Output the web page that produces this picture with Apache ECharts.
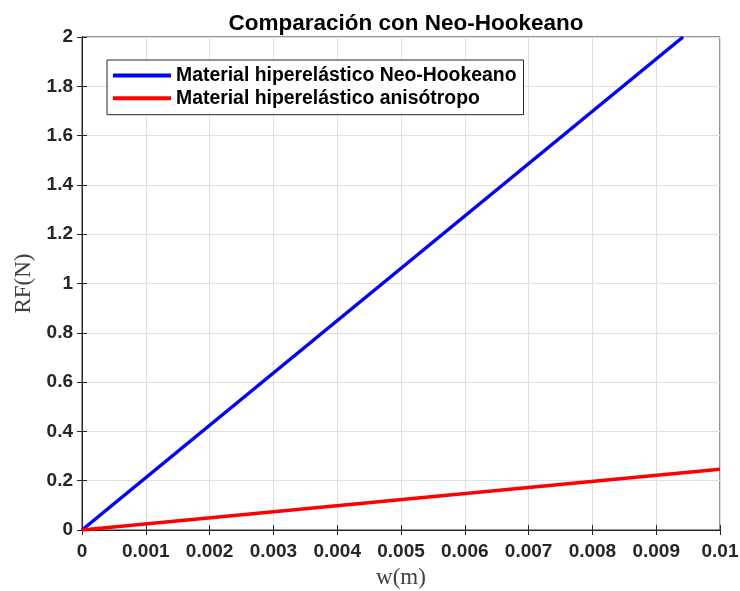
<!DOCTYPE html>
<html>
<head>
<meta charset="utf-8">
<script src="https://cdn.jsdelivr.net/npm/echarts@6/dist/echarts.min.js"></script>
<style>
  html, body { margin: 0; padding: 0; background: #fff; }
  #chart { width: 740px; height: 591px; }
</style>
</head>
<body>
<div id="chart"></div>
<script>
// Tick values for both axes
const xTicks = [0, 0.001, 0.002, 0.003, 0.004, 0.005, 0.006, 0.007, 0.008, 0.009, 0.01];
const yTicks = [0, 0.2, 0.4, 0.6, 0.8, 1, 1.2, 1.4, 1.6, 1.8, 2];

// Displacement w (m) and reaction force RF (N)
const neoW = [0, 0.00942];
const neoRF = [0, 2];
const anisoW = [0, 0.01];
const anisoRF = [0, 0.246];

const neoName = 'Material hiperelástico Neo-Hookeano';
const anisoName = 'Material hiperelástico anisótropo';

const pairs = (xs, ys) => xs.map((x, i) => [x, ys[i]]);

const sans = 'Liberation Sans, Arial, Helvetica, sans-serif';
const serif = 'Liberation Serif, Times New Roman, serif';
const axisColor = '#262626';
const tickFont = { fontFamily: sans, fontWeight: 'bold', fontSize: 19, color: axisColor };

const xRange = { type: 'value', min: xTicks[0], max: xTicks[xTicks.length - 1], interval: 0.001 };
const yRange = { type: 'value', min: yTicks[0], max: yTicks[yTicks.length - 1], interval: 0.2 };
const line = { show: true, lineStyle: { color: axisColor, width: 1 } };
const ticks = { show: true, inside: true, length: 5, lineStyle: { color: axisColor } };
const grid = { show: true, lineStyle: { color: '#e0e0e0', width: 1 } };

const chart = echarts.init(document.getElementById('chart'));
chart.setOption({
  animation: false,
  backgroundColor: '#fff',
  title: {
    text: 'Comparación con Neo-Hookeano',
    left: 401, top: 7, textAlign: 'center',
    textStyle: { fontFamily: sans, fontWeight: 'bold', fontSize: 22.5, color: '#000' }
  },
  grid: {
    left: 82, right: 20, top: 37, bottom: 61,
    outerBoundsMode: 'none', containLabel: false,
    show: true, borderColor: axisColor, borderWidth: 1
  },
  legend: {
    left: 107, top: 60, orient: 'vertical',
    itemWidth: 58, itemHeight: 4, itemGap: 3.7,
    padding: [6, 7, 7, 6],
    borderColor: axisColor, borderWidth: 1, backgroundColor: '#fff',
    icon: 'rect',
    textStyle: { fontFamily: sans, fontWeight: 'bold', fontSize: 19.4, lineHeight: 19, color: '#000' },
    data: [neoName, anisoName]
  },
  xAxis: [
    Object.assign({}, xRange, {
      position: 'bottom',
      name: 'w(m)', nameLocation: 'middle', nameGap: 36,
      nameTextStyle: { fontFamily: serif, fontSize: 23, color: '#404040' },
      axisLine: line, axisTick: ticks,
      axisLabel: Object.assign({ margin: 12, formatter: v => String(+v.toFixed(3)) }, tickFont),
      splitLine: grid
    }),
    Object.assign({}, xRange, {
      position: 'top', axisLine: line, axisTick: ticks,
      axisLabel: { show: false }, splitLine: { show: false }
    })
  ],
  yAxis: [
    Object.assign({}, yRange, {
      position: 'left',
      name: 'RF(N)', nameLocation: 'middle', nameGap: 47,
      nameTextStyle: { fontFamily: serif, fontSize: 23, color: '#404040' },
      axisLine: line, axisTick: ticks,
      axisLabel: Object.assign({ margin: 9, formatter: v => String(+v.toFixed(1)) }, tickFont),
      splitLine: grid
    }),
    Object.assign({}, yRange, {
      position: 'right', axisLine: line, axisTick: ticks,
      axisLabel: { show: false }, splitLine: { show: false }
    })
  ],
  series: [
    {
      name: neoName, type: 'line', xAxisIndex: 0, yAxisIndex: 0, data: pairs(neoW, neoRF),
      showSymbol: false, lineStyle: { color: '#0000ff', width: 3.5 }, itemStyle: { color: '#0000ff' }, z: 3
    },
    {
      name: anisoName, type: 'line', xAxisIndex: 0, yAxisIndex: 0, data: pairs(anisoW, anisoRF),
      showSymbol: false, lineStyle: { color: '#ff0000', width: 3.5 }, itemStyle: { color: '#ff0000' }, z: 4
    }
  ]
});
</script>
</body>
</html>
